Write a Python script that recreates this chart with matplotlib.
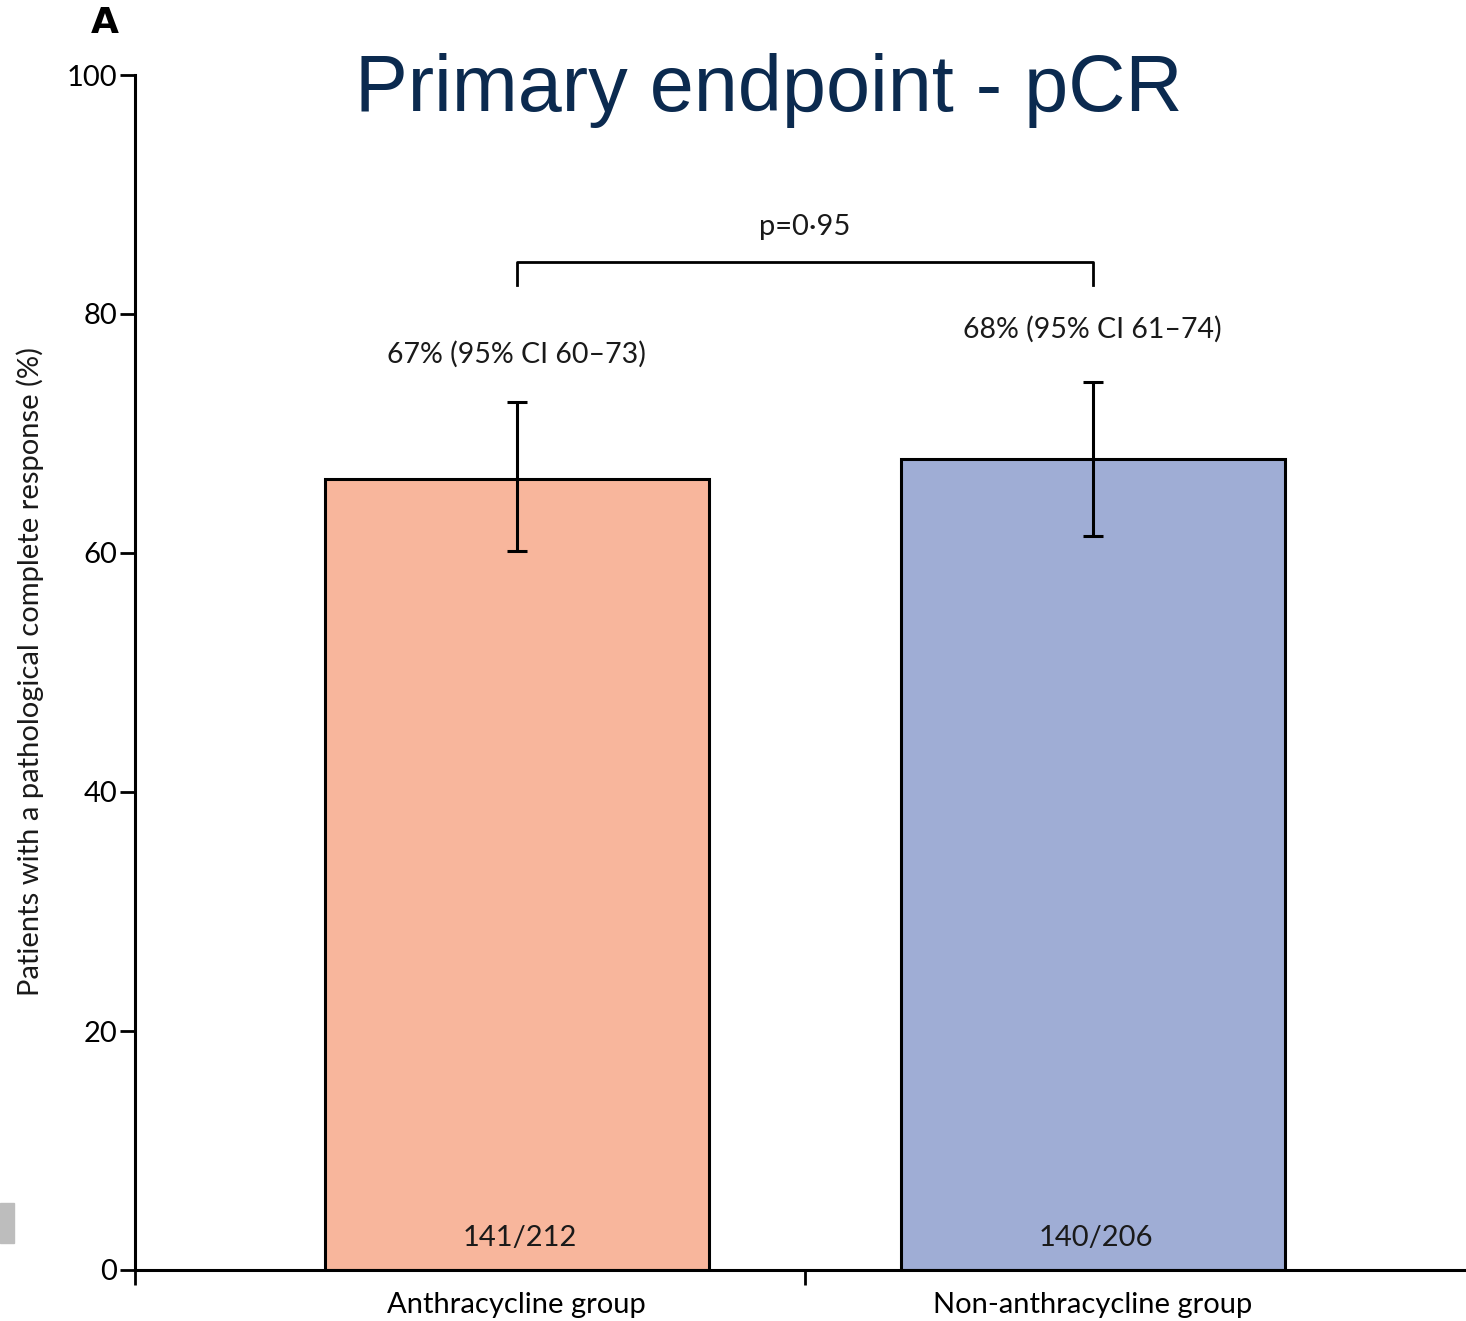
"""pCR bar chart - anthracycline vs non-anthracycline"""

import matplotlib
matplotlib.use("Agg")
import matplotlib.pyplot as plt
from matplotlib.patches import Rectangle

plt.rcParams['font.family'] = ['Lato', 'DejaVu Sans']

# === data ===
groups = ["Anthracycline group", "Non-anthracycline group"]
pcr_pct = [66.2, 67.9]
ci_low = [60.2, 61.4]
ci_high = [72.6, 74.3]
ci_labels = ["67% (95% CI 60–73)", "68% (95% CI 61–74)"]
counts = ["141/212", "140/206"]
p_label = "p=0·95"
yticks = [0, 20, 40, 60, 80, 100]

bar_colors = ["#F8B69C", "#9FADD5"]

fig = plt.figure(figsize=(14.66, 13.21), dpi=100)
ax = fig.add_axes([135 / 1466, 1 - 1270 / 1321, 1 - 135 / 1466, (1270 - 75) / 1321])

x = list(range(len(groups)))
ax.bar(x, pcr_pct, width=0.667, color=bar_colors, edgecolor="black", linewidth=2.2, zorder=2)
yerr = [[v - lo for v, lo in zip(pcr_pct, ci_low)], [hi - v for v, hi in zip(pcr_pct, ci_high)]]
ax.errorbar(x, pcr_pct, yerr=yerr, fmt="none", ecolor="black", elinewidth=2.2,
            capsize=7, capthick=2.2, zorder=3)

# CI labels above the bars, counts inside
ci_y = [76.6, 78.7]
for xi, lab, ty in zip(x, ci_labels, ci_y):
    ax.text(xi, ty, lab, ha="center", va="center", fontsize=20.5, color="#1a1a1a")
for xi, c in zip(x, counts):
    ax.text(xi + 0.005, 2.7, c, ha="center", va="center", fontsize=21, color="#1a1a1a")

# significance bracket
ax.plot([0, 0, 1, 1], [82.4, 84.35, 84.35, 82.4], color="black", lw=2.0, zorder=3)
ax.text(0.5, 87.3, p_label, ha="center", va="center", fontsize=21, color="#1a1a1a")

# axes
ax.set_xlim(-0.663, 1.648)
ax.set_ylim(0, 100)
ax.set_yticks(yticks)
ax.tick_params(axis="y", direction="out", length=11, width=2, labelsize=21, pad=2)
ax.set_xticks([-0.663, 0.5])
ax.set_xticklabels(["", ""])
ax.tick_params(axis="x", which="major", direction="out", length=11, width=2)
ax.set_xticks(x, minor=True)
ax.set_xticklabels(groups, minor=True)
ax.tick_params(axis="x", which="minor", length=0, labelsize=21, pad=16)
for side in ["top", "right"]:
    ax.spines[side].set_visible(False)
for side in ["left", "bottom"]:
    ax.spines[side].set_linewidth(2.2)

# y-axis title placed in figure coords
fig.text(30 / 1466, 1 - 672 / 1321, "Patients with a pathological complete response (%)",
         rotation=90, ha="center", va="center", fontsize=21, color="#1a1a1a")

# title & panel letter
fig.text(769 / 1466, 1 - 91 / 1321, "Primary endpoint - pCR", ha="center", va="center",
         fontsize=57, color="#0B2A4F", family="Liberation Sans")
fig.text(105 / 1466, 1 - 23 / 1321, "A", ha="center", va="center", fontsize=26,
         fontweight="bold", family="DejaVu Sans")

# grey block at the left edge
fig.patches.append(Rectangle((0, 1 - 1243 / 1321), 14 / 1466, 40 / 1321,
                             transform=fig.transFigure, color="#BDBDBD", zorder=0))

fig.savefig("out.png", dpi=100)
